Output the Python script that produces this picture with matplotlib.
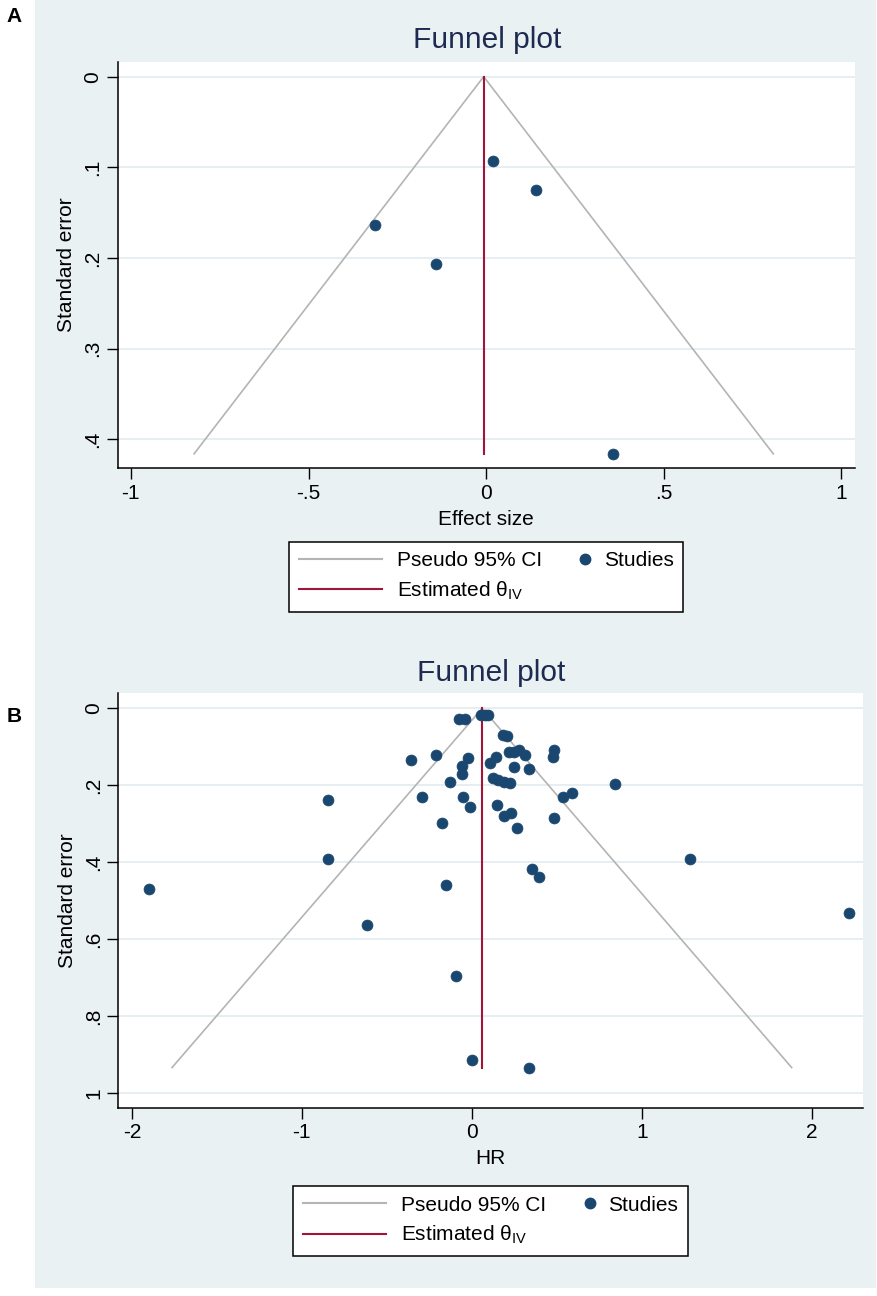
import matplotlib
matplotlib.use("Agg")
import matplotlib.pyplot as plt
from matplotlib.lines import Line2D
from matplotlib.patches import Rectangle
from matplotlib.legend_handler import HandlerBase
from matplotlib.ticker import FuncFormatter, MultipleLocator

plt.rcParams['font.family'] = ['Liberation Sans', 'DejaVu Sans']
plt.rcParams['mathtext.fontset'] = 'custom'
plt.rcParams['mathtext.rm'] = 'Liberation Sans'

# panel A: effect size vs standard error
a_effect = [0.018, 0.139, -0.314, -0.140, 0.357]
a_se = [0.093, 0.125, 0.164, 0.207, 0.416]
a_theta = -0.007
a_funnel_x = [-0.822, -0.007, 0.808]
a_funnel_y = [0.416, 0.0, 0.416]

# panel B: HR vs standard error
b_hr = [-1.90, -0.846, -0.846, -0.619, -0.36, -0.294, -0.213, -0.178, -0.152,
        -0.129, -0.092, -0.074, -0.060, -0.060, -0.051, -0.041, -0.021, -0.011,
        -0.001, 0.055, 0.075, 0.097, 0.106, 0.126, 0.14, 0.146, 0.155, 0.181,
        0.189, 0.189, 0.205, 0.22, 0.224, 0.230, 0.248, 0.25, 0.267, 0.279,
        0.312, 0.334, 0.338, 0.356, 0.396, 0.479, 0.483, 0.485, 0.538, 0.587,
        0.84, 1.283, 2.218]
b_se = [0.469, 0.238, 0.391, 0.562, 0.133, 0.230, 0.121, 0.297, 0.460,
        0.191, 0.695, 0.028, 0.150, 0.171, 0.231, 0.028, 0.130, 0.256,
        0.913, 0.017, 0.017, 0.017, 0.141, 0.182, 0.126, 0.251, 0.186, 0.069,
        0.191, 0.280, 0.072, 0.114, 0.195, 0.271, 0.113, 0.152, 0.310, 0.108,
        0.121, 0.158, 0.933, 0.417, 0.437, 0.126, 0.108, 0.286, 0.231, 0.221,
        0.197, 0.391, 0.531]
b_theta = 0.061
b_funnel_x = [-1.764, 0.061, 1.882]
b_funnel_y = [0.933, 0.0, 0.933]

BG = '#EAF1F3'
NAVY = '#1A476F'
RED = '#A0163A'
GREY = '#B4B4B4'
TITLE = '#1E2B50'


def stata_fmt(v, pos):
    s = '%g' % round(v, 6)
    if s.startswith('0.'):
        s = s[1:]
    elif s.startswith('-0.'):
        s = '-' + s[2:]
    return s


class RightDot(HandlerBase):
    def create_artists(self, legend, orig_handle, xdescent, ydescent,
                       width, height, fontsize, trans):
        x = -xdescent + width - 0.2 * fontsize
        y = -ydescent + height / 2
        m = Line2D([x], [y], marker='o', ls='none', color=NAVY,
                   markersize=7.5, transform=trans)
        return [m]


fig = plt.figure(figsize=(8.78, 12.96), dpi=100)
fig.patch.set_facecolor('white')
fig.add_artist(Rectangle((35 / 878, 1 - 1288 / 1296), 841 / 878, 1288 / 1296,
                         transform=fig.transFigure, facecolor=BG,
                         edgecolor='none', zorder=-10))


def funnel(rect, xs, ys, fx, fy, theta, xlim, ylim, xstep, ystep, xlabel):
    ax = fig.add_axes(rect)
    ax.set_facecolor('white')
    ax.plot(fx, fy, color=GREY, lw=1.2, zorder=2)
    ax.plot([theta, theta], [0, fy[0]], color=RED, lw=1.5, zorder=3)
    ax.scatter(xs, ys, s=62, color=NAVY, edgecolors=NAVY, linewidths=0.5,
               zorder=4)
    ax.set_xlim(*xlim)
    ax.set_ylim(*ylim)
    ax.xaxis.set_major_locator(MultipleLocator(xstep))
    ax.yaxis.set_major_locator(MultipleLocator(ystep))
    ax.xaxis.set_major_formatter(FuncFormatter(stata_fmt))
    ax.yaxis.set_major_formatter(FuncFormatter(stata_fmt))
    ax.yaxis.grid(True, color='#E4EDF0', lw=1.3)
    ax.set_axisbelow(True)
    for s in ['top', 'right']:
        ax.spines[s].set_visible(False)
    for s in ['left', 'bottom']:
        ax.spines[s].set_linewidth(1.1)
    ax.tick_params(direction='out', length=8, width=1.0, labelsize=15, pad=3)
    ax.tick_params(axis='y', labelrotation=90)
    for lab in ax.get_yticklabels():
        lab.set_va('center')
    ax.set_xlabel(xlabel, fontsize=15, labelpad=5)
    ax.set_ylabel('Standard error', fontsize=15, labelpad=5)
    return ax


axA = funnel([117.7 / 878, 1 - 468.3 / 1296, 737.3 / 878, 406.6 / 1296],
             a_effect, a_se, a_funnel_x, a_funnel_y, a_theta,
             (-1.037, 1.038), (0.432, -0.0165), 0.5, 0.1, 'Effect size')
axB = funnel([118.3 / 878, 1 - 1108 / 1296, 744.4 / 878, 414.7 / 1296],
             b_hr, b_se, b_funnel_x, b_funnel_y, b_theta,
             (-2.08, 2.30), (1.038, -0.039), 1, 0.2, 'HR')

fig.text(487 / 878, 1 - 48.3 / 1296, 'Funnel plot', fontsize=21.5,
         color=TITLE, ha='center', va='baseline')
fig.text(491 / 878, 1 - 681 / 1296, 'Funnel plot', fontsize=21.5,
         color=TITLE, ha='center', va='baseline')
fig.text(14 / 878, 1 - 16 / 1296, 'A', fontsize=15, weight='bold',
         ha='center', va='center')
fig.text(14 / 878, 1 - 716 / 1296, 'B', fontsize=15, weight='bold',
         ha='center', va='center')

h_ci = Line2D([], [], color=GREY, lw=1.5)
h_th = Line2D([], [], color=RED, lw=1.5)
h_st = Line2D([], [], marker='o', ls='none', color=NAVY)

for cx, cy in [(486.4, 576.9), (490.5, 1221)]:
    leg = fig.legend([h_ci, h_th, h_st],
                     ['Pseudo 95% CI', 'Estimated θ$_{\\rm IV}$', 'Studies'],
                     loc='center', bbox_to_anchor=(cx / 878, 1 - cy / 1296),
                     ncol=2, fontsize=15, handlelength=4, handletextpad=0.7,
                     columnspacing=-1.7, borderpad=0.45, labelspacing=0.45,
                     frameon=True, fancybox=False, edgecolor='black',
                     facecolor='white', framealpha=1,
                     handler_map={h_st: RightDot()})
    leg.get_frame().set_linewidth(1.1)

fig.savefig('out.png', dpi=100)
